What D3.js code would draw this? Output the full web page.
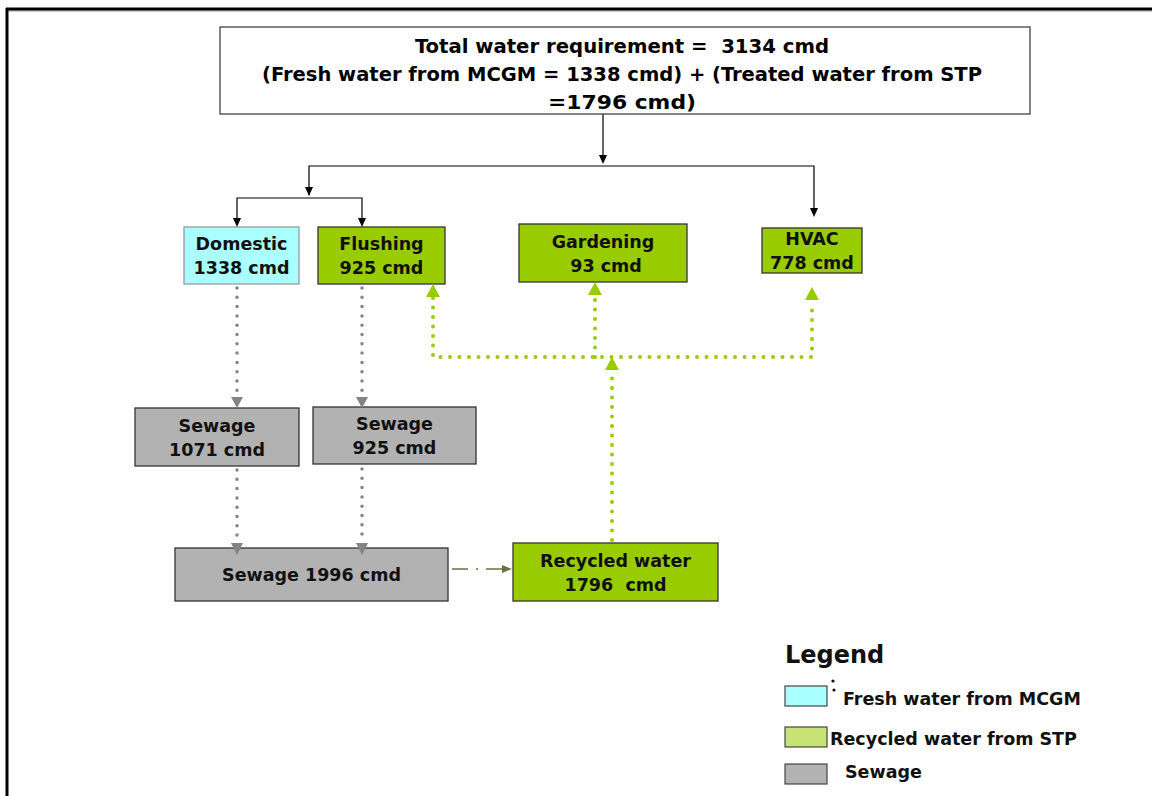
<!DOCTYPE html>
<html>
<head>
<meta charset="utf-8">
<script src="https://cdn.jsdelivr.net/npm/d3@7"></script>
<style>
  body { margin: 0; background: #fff; }
  svg { display: block; }
</style>
</head>
<body>
<script>
// water balance values (cmd)
const totalReq = 3134
const freshMCGM = 1338
const treatedSTP = 1796

const nodeIds = ["domestic", "flushing", "gardening", "hvac", "sew1", "sew2", "sewTotal", "recycled"]
const nodeLabels = [["Domestic", "1338 cmd"], ["Flushing", "925 cmd"], ["Gardening", " 93 cmd"], ["HVAC", "778 cmd"],
                    ["Sewage", "1071 cmd"], ["Sewage", "925 cmd"], ["Sewage 1996 cmd"], ["Recycled water", "1796  cmd"]]
const nodeKinds = ["fresh", "recycled", "recycled", "recycled", "sewage", "sewage", "sewage", "recycled"]

const legendLabels = ["Fresh water from MCGM", "Recycled water from STP", "Sewage"]
const legendKinds = ["fresh", "legendGreen", "sewage"]

// layout (pixels)
const width = 1152, height = 796
const box = {
  top:       {x: 220, y: 27,  w: 810, h: 87},
  domestic:  {x: 184, y: 227, w: 115, h: 57},
  flushing:  {x: 318, y: 227, w: 127, h: 57},
  gardening: {x: 519, y: 224, w: 168, h: 58},
  hvac:      {x: 762, y: 228, w: 100, h: 45},
  sew1:      {x: 135, y: 408, w: 164, h: 58},
  sew2:      {x: 313, y: 407, w: 163, h: 57},
  sewTotal:  {x: 175, y: 548, w: 273, h: 53},
  recycled:  {x: 513, y: 543, w: 205, h: 58}
}

const fill = {fresh: "#aaffff", recycled: "#99cc00", sewage: "#b2b2b2", legendGreen: "#c8e375"}
const edge = {fresh: "#999999", recycled: "#333333", sewage: "#333333", legendGreen: "#555555"}

const font = "'DejaVu Sans', sans-serif"

const svg = d3.select("body").append("svg")
    .attr("width", width)
    .attr("height", height)

// page frame
svg.append("line").attr("x1", 6).attr("x2", width).attr("y1", 11).attr("y2", 11)
    .attr("stroke", "#999").attr("stroke-width", 1)
svg.append("line").attr("x1", 6).attr("x2", width).attr("y1", 9).attr("y2", 9)
    .attr("stroke", "#000").attr("stroke-width", 3)
svg.append("line").attr("x1", 7).attr("x2", 7).attr("y1", 8).attr("y2", height)
    .attr("stroke", "#000").attr("stroke-width", 3)

// flow nodes (drawn first so arrow heads sit on top)
const nodes = nodeIds.map((id, i) => ({id, lines: nodeLabels[i], kind: nodeKinds[i], ...box[id]}))
const ng = svg.append("g").selectAll("g").data(nodes).join("g")
ng.append("rect")
    .attr("x", d => d.x).attr("y", d => d.y).attr("width", d => d.w).attr("height", d => d.h)
    .attr("fill", d => fill[d.kind]).attr("stroke", d => edge[d.kind]).attr("stroke-width", 1.3)
ng.each(function (d) {
  const g = d3.select(this)
  const n = d.lines.length
  const lh = 24
  const cy = d.y + d.h / 2
  d.lines.forEach((t, j) => {
    g.append("text")
      .attr("x", d.x + d.w / 2)
      .attr("y", cy + (j - (n - 1) / 2) * lh + 6.5)
      .attr("text-anchor", "middle")
      .attr("font-family", font)
      .attr("font-weight", "bold")
      .attr("font-size", 17.5)
      .attr("fill", "#111")
      .style("white-space", "pre")
      .text(t)
  })
})

// arrow heads
function head(x, y, dir, w, h, color) {
  // tip at (x,y), dir 1 = pointing down, -1 = up
  svg.append("path")
    .attr("d", `M${x},${y} L${x - w / 2},${y - dir * h} L${x + w / 2},${y - dir * h} Z`)
    .attr("fill", color)
}
function headRight(x, y, w, h, color) {
  svg.append("path")
    .attr("d", `M${x},${y} L${x - h},${y - w / 2} L${x - h},${y + w / 2} Z`)
    .attr("fill", color)
}

const line = d3.line()

// black distribution lines
const black = svg.append("g").attr("fill", "none").attr("stroke", "#000").attr("stroke-width", 1.2)
black.append("path").attr("d", line([[603, 114], [603, 156]]))
head(603, 164, 1, 8, 9, "#000")
black.append("path").attr("d", line([[309, 195], [309, 166], [814, 166], [814, 208]]))
head(309, 196, 1, 8, 9, "#000")
head(814, 217, 1, 8, 9, "#000")
black.append("path").attr("d", line([[237, 218], [237, 198], [362, 198], [362, 218]]))
head(237, 227, 1, 8, 9, "#000")
head(362, 227, 1, 8, 9, "#000")

// grey sewage flows (dotted)
const grey = "#848484"
const greyG = svg.append("g").attr("fill", "none").attr("stroke", grey)
    .attr("stroke-width", 3.5).attr("stroke-linecap", "round").attr("stroke-dasharray", "0 9.3")
greyG.append("path").attr("d", line([[237, 288], [237, 396]]))
greyG.append("path").attr("d", line([[362, 288], [362, 396]]))
greyG.append("path").attr("d", line([[237, 470], [237, 540]]))
greyG.append("path").attr("d", line([[362, 469], [362, 540]]))
head(237, 408, 1, 12, 11, grey)
head(362, 408, 1, 12, 11, grey)
head(237, 555, 1, 12, 12, grey)
head(362, 555, 1, 12, 12, grey)

// green recycled flows (dotted)
const green = "#99cc00"
const greenG = svg.append("g").attr("fill", "none").attr("stroke", green)
    .attr("stroke-width", 4).attr("stroke-linecap", "round").attr("stroke-dasharray", "0 9.5")
greenG.append("path").attr("d", line([[433, 298], [433, 357], [812, 357], [812, 301]]))
greenG.append("path").attr("d", line([[595, 357], [595, 296]]))
greenG.append("path").attr("d", line([[612, 540], [612, 372]]))
head(433, 284, -1, 14, 13, green)
head(595, 282, -1, 14, 13, green)
head(812, 287, -1, 14, 13, green)
head(612, 357, -1, 14, 13, green)

// sewage to STP (dash-dot)
svg.append("path").attr("d", line([[452, 569], [503, 569]]))
    .attr("stroke", "#6e6e45").attr("stroke-width", 1.5).attr("stroke-dasharray", "16 8 2 8")
headRight(512, 569, 8, 10, "#6e6e45")

// top box
svg.append("rect").attr("x", box.top.x).attr("y", box.top.y).attr("width", box.top.w).attr("height", box.top.h)
    .attr("fill", "#fff").attr("stroke", "#333").attr("stroke-width", 1.2)
const topLines = [
  `Total water requirement =  ${totalReq} cmd`,
  `(Fresh water from MCGM = ${freshMCGM} cmd) + (Treated water from STP`,
  `=${treatedSTP} cmd)`
]
const topLen = [414, 720, 148]
svg.append("g").selectAll("text").data(topLines).join("text")
    .attr("x", 622)
    .attr("y", (d, i) => 53 + i * 28)
    .attr("text-anchor", "middle")
    .attr("font-family", "'DejaVu Sans Condensed', 'DejaVu Sans', sans-serif")
    .attr("font-weight", "bold")
    .attr("font-size", 19)
    .attr("textLength", (d, i) => topLen[i])
    .attr("lengthAdjust", "spacingAndGlyphs")
    .style("white-space", "pre")
    .text(d => d)

// legend
svg.append("text").attr("x", 785).attr("y", 663)
    .attr("font-family", font).attr("font-weight", "bold").attr("font-size", 24).attr("fill", "#111")
    .text("Legend")
const legY = [686, 727, 764]
const legTx = [843, 830, 845]
const legBase = [705, 745, 778]
const lg = svg.append("g").selectAll("g").data(legendLabels).join("g")
lg.append("rect")
    .attr("x", 785).attr("y", (d, i) => legY[i]).attr("width", 42).attr("height", 20)
    .attr("fill", (d, i) => fill[legendKinds[i]]).attr("stroke", "#444").attr("stroke-width", 1.2)
lg.append("text")
    .attr("x", (d, i) => legTx[i]).attr("y", (d, i) => legBase[i])
    .attr("font-family", font).attr("font-weight", "bold").attr("font-size", 17.5).attr("fill", "#111")
    .text(d => d)
// stray colon next to first legend swatch
svg.append("circle").attr("cx", 833).attr("cy", 681).attr("r", 1.6).attr("fill", "#111")
svg.append("circle").attr("cx", 834).attr("cy", 690).attr("r", 1.6).attr("fill", "#111")
</script>
</body>
</html>
